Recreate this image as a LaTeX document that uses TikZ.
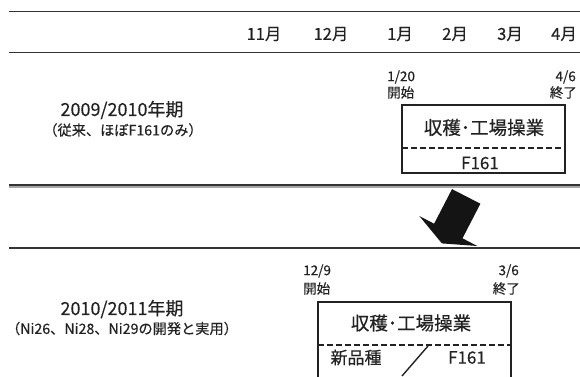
\documentclass[tikz,border=0pt]{standalone}
\usepackage{fontspec}
\setmainfont{Noto Sans CJK JP}[FakeBold=0.4]
\definecolor{ink}{HTML}{222222}
\definecolor{rule}{HTML}{333333}
\tikzset{
  month/.style={font=\fontsize{16.5}{18}\selectfont, text=ink, inner sep=0pt},
  datelbl/.style={font=\fontsize{13.5}{15}\selectfont, text=ink, inner sep=0pt},
  period/.style={font=\fontsize{18}{21}\selectfont, text=ink, inner sep=0pt},
  sub/.style={font=\fontsize{14.2}{17}\selectfont, text=ink, inner sep=0pt},
  boxtxt/.style={font=\fontsize{17}{20}\selectfont, text=ink, inner sep=0pt},
  boxhead/.style={font=\fontsize{18.5}{21}\selectfont, text=ink, inner sep=0pt},
  opbox/.style={draw=ink, line width=1.4pt, inner sep=0pt, rectangle},
}
\begin{document}
\begin{tikzpicture}[x=1pt,y=-1pt]
\useasboundingbox (0,0) rectangle (580,376);
\clip (0,0) rectangle (580,376);
% rules
\coordinate (r1a) at (9,11);   \coordinate (r1b) at (580,11);
\coordinate (r2a) at (9,52.5); \coordinate (r2b) at (580,52.5);
\coordinate (r3a) at (9,185);  \coordinate (r3b) at (580,185);
\coordinate (r3c) at (9,187);  \coordinate (r3d) at (580,187);
\coordinate (r4a) at (9,248);  \coordinate (r4b) at (580,248);
\draw[rule, line width=0.9pt] (r1a) -- (r1b);
\draw[rule, line width=1.4pt] (r2a) -- (r2b);
\draw[gray!70, line width=1.2pt] (r3c) -- (r3d);
\draw[rule, line width=2.2pt] (r3a) -- (r3b);
\draw[rule, line width=2pt] (r4a) -- (r4b);
% months
\node[month] (m11) at (264,34) {11月};
\node[month] (m12) at (331,34) {12月};
\node[month] (m1) at (400,34) {1月};
\node[month] (m2) at (455,34) {2月};
\node[month] (m3) at (510,34) {3月};
\node[month] (m4) at (564,34) {4月};
% upper period
\node[period] (p1) at (122,110) {2009/2010年期};
\node[sub] (s1) at (123,130) {（従来、ほぼF161のみ）};
\node[datelbl, anchor=west] (d1a) at (387,77) {1/20};
\node[datelbl, anchor=west] (d1b) at (387,92.5) {開始};
\node[datelbl, anchor=east] (d1c) at (576,77) {4/6};
\node[datelbl, anchor=east] (d1d) at (577,92.5) {終了};
\node[opbox, minimum width=163pt, minimum height=68pt] (box1) at (483.5,139) {};
\coordinate (b1l) at (402,148); \coordinate (b1r) at (565,148);
\draw[ink, line width=1.2pt, dash pattern=on 5.5pt off 3.5pt] (b1l) -- (b1r);
\node[boxhead] (t1) at (484,127.5) {収穫･工場操業};
\node[boxtxt] (f1) at (480,163) {F161};
% arrow
\coordinate (aTL) at (452.0,189.1);
\coordinate (aTR) at (480.4,203.7);
\coordinate (aBR) at (462.5,238.3);
\coordinate (aWR) at (477.3,246.0);
\coordinate (aTip) at (441.9,243.4);
\coordinate (aWL) at (419.3,216.0);
\coordinate (aBL) at (434.1,223.7);
\fill[black!92] (aTL) -- (aTR) -- (aBR) -- (aWR) -- (aTip) -- (aWL) -- (aBL) -- cycle;
% lower period
\node[period] (p2) at (122,309) {2010/2011年期};
\node[sub] (s2) at (122,328.5) {（Ni26、Ni28、Ni29の開発と実用）};
\node[datelbl, anchor=west] (d2a) at (303,271) {12/9};
\node[datelbl, anchor=west] (d2b) at (303,288.5) {開始};
\node[datelbl, anchor=east] (d2c) at (519,271) {3/6};
\node[datelbl, anchor=east] (d2d) at (520,288.5) {終了};
\node[opbox, minimum width=193pt, minimum height=80pt] (box2) at (414.5,342) {};
\coordinate (b2l) at (318,345); \coordinate (b2r) at (511,345);
\draw[ink, line width=2.6pt, dash pattern=on 5.5pt off 3.5pt] (b2l) -- (b2r);
\node[boxhead] (t2) at (411,323) {収穫･工場操業};
\node[boxtxt] (n2) at (356,357.5) {新品種};
\node[boxtxt] (f2) at (467,357.5) {F161};
\coordinate (slA) at (402,376); \coordinate (slB) at (428,346);
\draw[ink, line width=1.4pt] (slA) -- (slB);
\end{tikzpicture}
\end{document}
